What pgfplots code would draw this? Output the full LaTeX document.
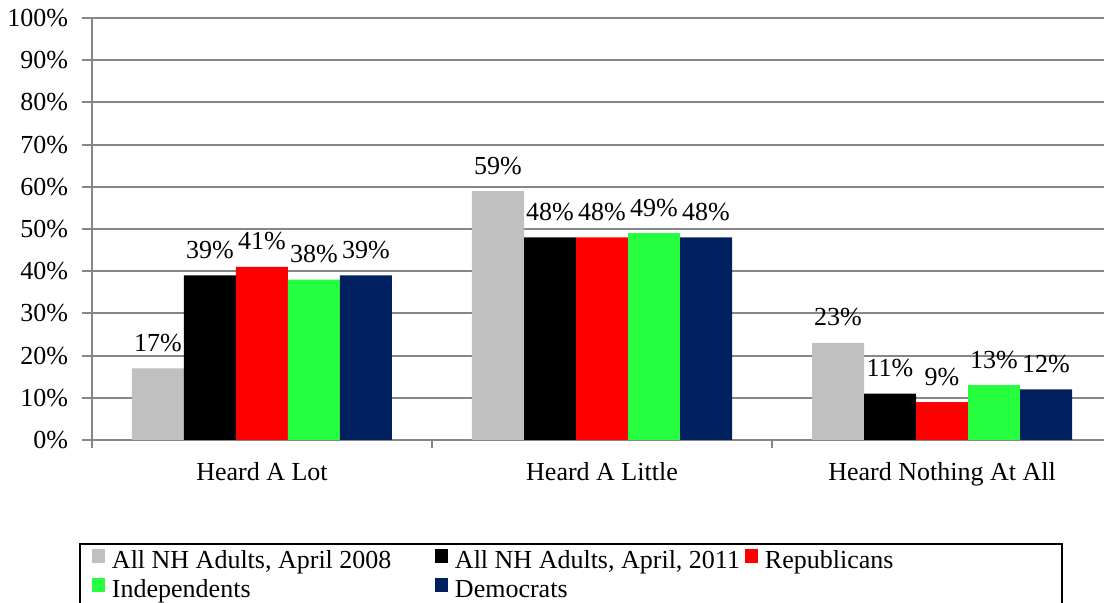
\documentclass[border=0pt]{standalone}
\usepackage{fontspec}
\setmainfont{Liberation Serif}
\usepackage{pgfplots}
\pgfplotsset{compat=1.18}
\definecolor{c1}{RGB}{192,192,192}
\definecolor{c3}{RGB}{255,0,0}
\definecolor{c4}{RGB}{38,255,64}
\definecolor{c5}{RGB}{0,32,96}
\definecolor{gridc}{RGB}{134,134,134}
\begin{document}
\begin{tikzpicture}[font=\fontsize{13}{15}\selectfont]
\begin{axis}[
  scale only axis, width=510pt, height=211pt,
  ymin=0, ymax=100, ytick={0,10,...,100},
  xmin=-0.5, xmax=2.5,
  xtick={0,1,2},
  xticklabels={Heard A Lot, Heard A Little, Heard Nothing At All},
  minor xtick={-0.5,0.5,1.5},
  ybar=0pt, bar width=26pt,
  ymajorgrids, grid style={gridc, line width=1pt},
  axis lines=left, axis line style={-, gridc, line width=1pt},
  tick align=outside,
  major tick length=5pt, minor tick length=4pt,
  tick style={gridc, line width=1pt},
  major x tick style={draw=none},
  yticklabel={\pgfmathprintnumber{\tick}\%},
  yticklabel style={xshift=-3.5pt},
  /pgf/number format/assume math mode=true,
  xticklabel style={anchor=base, yshift=-15.5pt},
  nodes near coords={\pgfmathprintnumber{\pgfplotspointmeta}\%},
  every node near coord/.append style={anchor=base, yshift=8.5pt, text=black},
  legend columns=3,
  legend cell align=left,
  legend style={draw=none, fill=none, at={(rel axis cs:0,0)}, anchor=north west,
    yshift=-54.3pt, inner sep=0pt, outer sep=0pt,
    nodes={inner sep=0pt, text height=9pt, text depth=2.8pt},
    row sep=1.7pt,
    /tikz/every odd column/.append style={column sep=3.5pt},
    /tikz/every even column/.append style={column sep=0pt}},
  legend image code/.code={\fill[#1] (0pt,0pt) rectangle (6.5pt,7pt);},
]
\addplot[fill=c1, draw=none] coordinates {(0,17) (1,59) (2,23)};
\addplot[fill=black, draw=none] coordinates {(0,39) (1,48) (2,11)};
\addplot[fill=c3, draw=none] coordinates {(0,41) (1,48) (2,9)};
\addplot[fill=c4, draw=none] coordinates {(0,38) (1,49) (2,13)};
\addplot[fill=c5, draw=none] coordinates {(0,39) (1,48) (2,12)};
\addlegendentry{\makebox[161.5pt][l]{All NH Adults, April 2008}}
\addlegendentry{\makebox[145pt][l]{All NH Adults, April, 2011}}
\addlegendentry{Republicans}
\addlegendentry{Independents}
\addlegendentry{Democrats}
\coordinate (sw) at (rel axis cs:0,0);
\end{axis}
\draw[black, line width=1pt] ([shift={(-6pt,-52pt)}]sw) rectangle ([shift={(485pt,-100pt)}]sw);
\pgfresetboundingbox
\path[use as bounding box] ([shift={(-46pt,-81.5pt)}]sw) rectangle ([shift={(506pt,220pt)}]sw);
\end{tikzpicture}
\end{document}
